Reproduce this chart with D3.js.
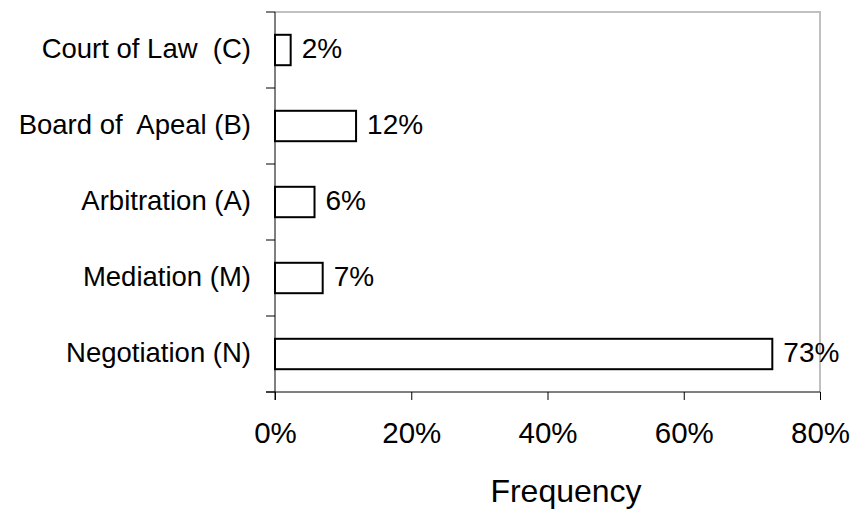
<!DOCTYPE html>
<html>
<head>
<meta charset="utf-8">
<script src="https://cdn.jsdelivr.net/npm/d3@7"></script>
<style>
  body { margin: 0; background: #fff; }
  text { font-family: "Liberation Sans", Arial, sans-serif; fill: #000; }
</style>
</head>
<body>
<svg></svg>
<script>
const categories = ['Court of Law  (C)', 'Board of  Apeal (B)', 'Arbitration (A)', 'Mediation (M)', 'Negotiation (N)'];
const values = [2.3, 11.9, 5.8, 7.0, 73.0];
const xTicks = [0, 20, 40, 60, 80];

const margin = {t: 12, r: 30, b: 117, l: 275};
const size = {w: 850, h: 509};
const svg = d3.select('svg')
    .attr('width', size.w)
    .attr('height', size.h);

const w = size.w - margin.l - margin.r;
const h = size.h - margin.t - margin.b;

const data = categories.map((c, i) => ({cat: c, val: values[i]}));

const x = d3.scaleLinear().domain([0, 80]).range([0, w]);
const y = d3.scaleBand().domain(categories).range([0, h])
    .paddingInner(0.6).paddingOuter(0.3);

const g = svg.append('g').attr('transform', `translate(${margin.l},${margin.t})`);

// grey frame on top and right
g.append('path')
    .attr('d', `M0,0H${w}V${h}`)
    .attr('fill', 'none')
    .attr('stroke', '#c0c0c0')
    .attr('stroke-width', 2);

// bars
g.selectAll('rect.bar')
    .data(data)
    .enter()
    .append('rect')
    .attr('class', 'bar')
    .attr('x', 0)
    .attr('y', d => y(d.cat))
    .attr('width', d => x(d.val))
    .attr('height', y.bandwidth())
    .attr('fill', '#fff')
    .attr('stroke', '#000')
    .attr('stroke-width', 2);

// value labels
g.selectAll('text.val')
    .data(data)
    .enter()
    .append('text')
    .attr('class', 'val')
    .attr('x', d => x(d.val) + 11)
    .attr('y', d => y(d.cat) + y.bandwidth() / 2 + 8)
    .style('font-size', '28px')
    .text(d => Math.round(d.val) + '%');

// x axis
const xAxis = g.append('g')
    .attr('transform', `translate(0,${h})`)
    .call(d3.axisBottom(x).tickValues(xTicks).tickSize(8).tickFormat(d => d + '%'));
xAxis.select('.domain').remove();
xAxis.selectAll('.tick line').attr('stroke', '#000');
xAxis.selectAll('.tick text')
    .attr('y', 51)
    .attr('dy', null)
    .style('font-size', '29.5px');
g.append('line')
    .attr('x1', -9).attr('x2', w)
    .attr('y1', h).attr('y2', h)
    .attr('stroke', '#000');

// y axis: labels at band centres, ticks at band edges
const yAxis = g.append('g')
    .call(d3.axisLeft(y).tickSize(0).tickPadding(24));
yAxis.select('.domain').remove();
yAxis.selectAll('.tick text')
    .attr('dy', null)
    .attr('y', 8)
    .style('font-size', '27.5px')
    .style('white-space', 'pre');

const edges = d3.range(categories.length + 1).map(i => y.range()[0] + i * y.step());
g.selectAll('line.ytick')
    .data(edges)
    .enter()
    .append('line')
    .attr('class', 'ytick')
    .attr('x1', -9).attr('x2', 0)
    .attr('y1', d => d).attr('y2', d => d)
    .attr('stroke', '#000');
g.append('line')
    .attr('x1', 0).attr('x2', 0)
    .attr('y1', 0).attr('y2', h + 8)
    .attr('stroke', '#000');

// axis title
svg.append('text')
    .attr('x', 566)
    .attr('y', 502)
    .attr('text-anchor', 'middle')
    .style('font-size', '32px')
    .text('Frequency');
</script>
</body>
</html>
